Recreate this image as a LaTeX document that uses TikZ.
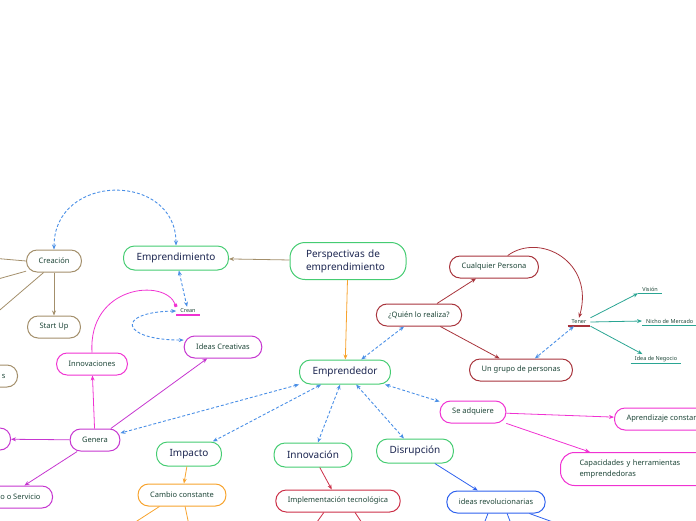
\documentclass[tikz,border=0pt]{standalone}
\usepackage{fontspec}
\setmainfont{Noto Sans}
\usepackage{xcolor}
\usepackage{tikz}
\usetikzlibrary{arrows.meta,positioning,calc}
\definecolor{mapgreen}{HTML}{45CC72}
\definecolor{maptan}{HTML}{A38F6B}
\definecolor{mappink}{HTML}{F032D2}
\definecolor{mapviolet}{HTML}{C636D0}
\definecolor{mapred}{HTML}{A8343C}
\definecolor{mapcrimson}{HTML}{CC3048}
\definecolor{maporange}{HTML}{F7A32E}
\definecolor{mapblue}{HTML}{2F62EE}
\definecolor{mapdash}{HTML}{4A8FE6}
\definecolor{mapteal}{HTML}{2AA593}
\definecolor{textnavy}{HTML}{1B2550}
\definecolor{textgreen}{HTML}{1E4638}

\begin{document}
\begin{tikzpicture}[x=1pt, y=-1pt,
  mainbox/.style={draw=mapgreen, line width=1pt, rounded corners=11pt, fill=white, minimum height=24pt, inner xsep=13pt, font=\fontsize{10}{13}\selectfont, text=textnavy},
  subbox/.style={draw, line width=1pt, rounded corners=10.5pt, fill=white, minimum height=22pt, inner xsep=12pt, font=\fontsize{7.5}{11}\selectfont, text=textgreen},
  leaf/.style={inner xsep=4pt, inner ysep=2pt, font=\fontsize{5.5}{6.5}\selectfont, text=textgreen},
  arr/.style={-{Stealth[length=5pt, width=4pt]}, line width=0.8pt},
  dasharr/.style={{Stealth[length=5pt, width=4pt]}-{Stealth[length=5pt, width=4pt]}, mapdash, line width=0.9pt, dash pattern=on 3pt off 2pt},
  plain/.style={line width=0.8pt}
]
  \useasboundingbox (0,0) rectangle (696,520);
  \clip (0,0) rectangle (696,520);

  \node[subbox, draw=maptan] (creacion) at (54,261) {Creación};
  \node[subbox, draw=maptan] (startup) at (54,327) {Start Up};
  \node[subbox, draw=maptan, anchor=east, text width=40pt, align=right] (leftbrown) at (18,376) {s};
  \node[mainbox] (emprendimiento) at (176,258) {Emprendimiento};
  \node[mainbox, text width=84pt, align=left, inner xsep=16pt, minimum height=37pt, rounded corners=15pt] (perspectivas) at (348,261) {Perspectivas de\\emprendimiento};
  \node[mainbox] (emprendedor) at (345,372) {Emprendedor};

  \node[leaf] (crean) at (188,311) {Crean};
  \node[subbox, draw=mapviolet] (ideas) at (223,347) {Ideas Creativas};
  \node[subbox, draw=mappink] (innovaciones) at (92,364) {Innovaciones};
  \node[subbox, draw=mapviolet] (genera) at (95,440) {Genera};
  \node[subbox, draw=mapviolet, anchor=east, minimum width=60pt] (leftviolet) at (11,439) {};
  \node[subbox, draw=mapviolet, anchor=east] (servicio) at (53,497) {Producto o Servicio};

  \node[mainbox] (impacto) at (189,454) {Impacto};
  \node[subbox, draw=maporange] (cambio) at (182,495) {Cambio constante};
  \node[mainbox] (innovacion) at (313,455) {Innovación};
  \node[subbox, draw=mapcrimson] (implementacion) at (338,501) {Implementación tecnológica};
  \node[mainbox] (disrupcion) at (415,451) {Disrupción};
  \node[subbox, draw=mapblue] (revolucionarias) at (496,502) {ideas revolucionarias};

  \node[subbox, draw=mappink] (adquiere) at (473,412) {Se adquiere};
  \node[subbox, draw=mappink, anchor=west] (aprendizaje) at (614,419) {Aprendizaje constante};
  \node[subbox, draw=mappink, anchor=west, text width=120pt, align=left, inner xsep=19pt, minimum height=33pt, rounded corners=14pt] (capacidades) at (560,469) {Capacidades y herramientas\\emprendedoras};

  \node[subbox, draw=mapred] (quien) at (419,315) {¿Quién lo realiza?};
  \node[subbox, draw=mapred] (cualquier) at (494,267) {Cualquier Persona};
  \node[subbox, draw=mapred] (grupo) at (521,370) {Un grupo de personas};
  \node[leaf] (tener) at (579,322) {Tener};
  \node[leaf] (vision) at (650,289) {Visión};
  \node[leaf, anchor=west] (nicho) at (642,321) {Nicho de Mercado};
  \node[leaf] (negocio) at (656,359) {Idea de Negocio};

  \coordinate (offa) at (-20,257);
  \coordinate (offb) at (-20,284);
  \coordinate (offc) at (-20,327);
  \coordinate (cambioa) at (120,532);
  \coordinate (cambiob) at (190,530);
  \coordinate (implea) at (312,529);
  \coordinate (impleb) at (366,529);
  \coordinate (revola) at (482,529);
  \coordinate (revolb) at (513,529);
  \coordinate (revolc) at (575,530);

  \draw[mappink, line width=1.5pt] (crean.south west) -- (crean.south east);
  \draw[mapred, line width=1.5pt] (tener.south west) -- (tener.south east);
  \draw[mapteal, line width=1pt] (vision.south west) -- (vision.south east);
  \draw[mapteal, line width=1pt] (nicho.south west) -- (nicho.south east);
  \draw[mapteal, line width=1pt] (negocio.south west) -- (negocio.south east);

  \draw[arr, maptan] (perspectivas) -- (emprendimiento);
  \draw[arr, maptan] (creacion) -- (startup);
  \draw[plain, maptan] (creacion.west) -- (offa);
  \draw[plain, maptan] (creacion.200) -- (offb);
  \draw[plain, maptan] (creacion.228) -- (offc);
  \draw[arr, maporange] (perspectivas) -- (emprendedor);

  \draw[dasharr] (creacion.north) .. controls (54,172) and (176,172) .. (emprendimiento.north);
  \draw[dasharr] (emprendimiento) -- (crean);
  \draw[dasharr] (crean.west) .. controls (115,312) and (120,340) .. (ideas.170);
  \draw[-{Square[length=3pt, width=3pt]}, mappink, line width=0.8pt] (innovaciones.north) .. controls (88,285) and (165,278) .. (crean.north west);

  \draw[dasharr] (emprendedor) -- (genera);
  \draw[dasharr] (emprendedor) -- (impacto);
  \draw[dasharr] (emprendedor) -- (innovacion);
  \draw[dasharr] (emprendedor) -- (disrupcion);
  \draw[dasharr] (emprendedor) -- (adquiere);
  \draw[dasharr] (emprendedor) -- (quien);
  \draw[dasharr] (tener) -- (grupo);

  \draw[arr, mappink] (genera) -- (innovaciones);
  \draw[arr, mapviolet] (genera) -- (ideas);
  \draw[arr, mapviolet] (genera) -- (leftviolet);
  \draw[arr, mapviolet] (genera) -- (servicio);

  \draw[arr, maporange] (impacto) -- (cambio);
  \draw[plain, maporange] (cambio.207) -- (cambioa);
  \draw[plain, maporange] (cambio.285) -- (cambiob);
  \draw[arr, mapcrimson] (innovacion) -- (implementacion);
  \draw[plain, mapcrimson] (implementacion.219) -- (implea);
  \draw[plain, mapcrimson] (implementacion.326) -- (impleb);
  \draw[arr, mapblue] (disrupcion) -- (revolucionarias);
  \draw[plain, mapblue] (revolucionarias.235) -- (revola);
  \draw[plain, mapblue] (revolucionarias.314) -- (revolb);
  \draw[plain, mapblue] (revolucionarias.341) -- (revolc);

  \draw[arr, mappink] (adquiere) -- (aprendizaje);
  \draw[arr, mappink] (adquiere) -- (capacidades);

  \draw[arr, mapred] (quien) -- (cualquier);
  \draw[arr, mapred] (quien) -- (grupo);
  \draw[arr, mapred] (cualquier.40) .. controls (540,232) and (595,262) .. (tener.north);
  \draw[arr, mapteal] (tener.north east) -- (vision.south west);
  \draw[arr, mapteal] (tener.east) -- (nicho.west);
  \draw[arr, mapteal] (tener.south east) -- (negocio.160);
\end{tikzpicture}
\end{document}
